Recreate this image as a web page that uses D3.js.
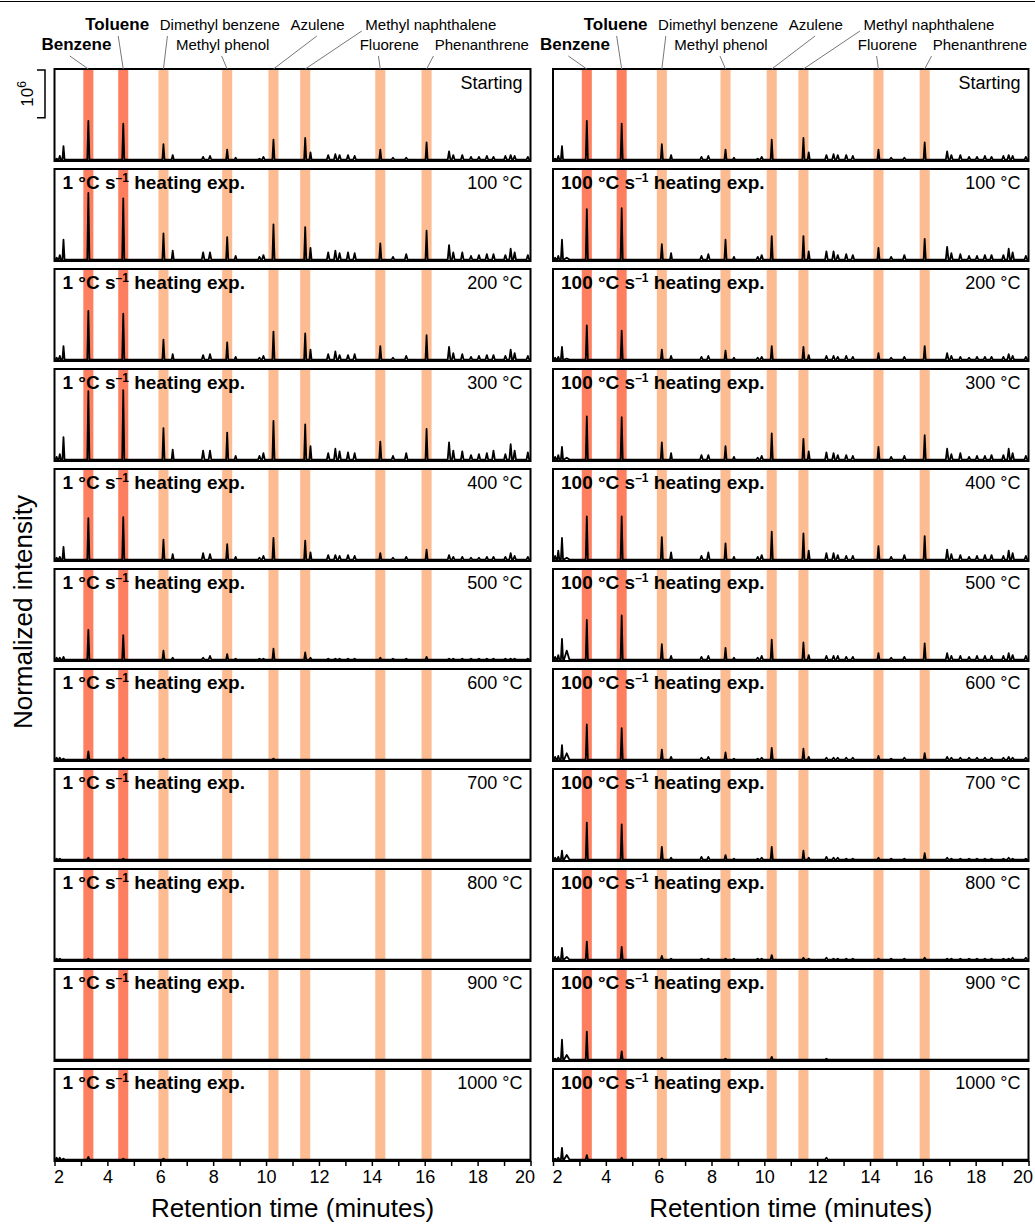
<!DOCTYPE html>
<html>
<head>
<meta charset="utf-8">
<script src="https://cdn.jsdelivr.net/npm/d3@7"></script>
<style>
  body { margin: 0; background: #fff; }
  svg { display: block; font-family: "Liberation Sans", Arial, Helvetica, sans-serif; }
</style>
</head>
<body>
<div id="chart"></div>
<script>
// chart data
const panelTemps = ["Starting", "100 °C", "200 °C", "300 °C", "400 °C", "500 °C",
  "600 °C", "700 °C", "800 °C", "900 °C", "1000 °C"];
const rateLabels = ["1", "100"];

// retention times (min) of the peaks that are tracked
const peakTimes = [2.08, 2.2, 2.34, 2.52, 3.28, 4.6, 6.12, 6.47, 7.62, 7.88, 8.53, 8.85,
  9.75, 9.9, 10.28, 11.48, 11.68, 12.35, 12.62, 12.78, 13.1, 13.35, 14.32, 14.8, 15.3,
  16.07, 16.92, 17.08, 17.42, 17.75, 18.05, 18.35, 18.6, 19.05, 19.25, 19.4, 19.9];
const peakWidths = [0.04, 0.04, 0.04, 0.1, 0.04, 0.04, 0.04, 0.04, 0.05, 0.05, 0.04, 0.04,
  0.05, 0.05, 0.04, 0.04, 0.04, 0.05, 0.05, 0.05, 0.05, 0.05, 0.04, 0.05, 0.05,
  0.04, 0.05, 0.05, 0.05, 0.05, 0.05, 0.05, 0.05, 0.05, 0.05, 0.05, 0.05];

// normalised heights (fraction of panel height), one row per panel
const startHeights = [0.01, 0.04, 0.15, 0, 0.43, 0.40, 0.17, 0.05, 0.03, 0.04, 0.11, 0.02,
  0.01, 0.03, 0.22, 0.24, 0.08, 0.05, 0.06, 0.05, 0.05, 0.04, 0.11, 0.02, 0.02,
  0.19, 0.09, 0.05, 0.05, 0.03, 0.03, 0.04, 0.03, 0.04, 0.05, 0.04, 0.03];

const slowHeights = [
  startHeights,
  [0.02, 0.05, 0.22, 0, 0.74, 0.68, 0.29, 0.10, 0.08, 0.08, 0.25, 0.04, 0.03, 0.05, 0.39, 0.36, 0.13, 0.08, 0.10, 0.07, 0.08, 0.07, 0.18, 0.03, 0.06, 0.32, 0.16, 0.08, 0.08, 0.04, 0.05, 0.06, 0.06, 0.05, 0.12, 0.08, 0.05],
  [0.02, 0.04, 0.15, 0, 0.54, 0.51, 0.22, 0.06, 0.05, 0.06, 0.19, 0.03, 0.02, 0.04, 0.31, 0.29, 0.11, 0.06, 0.09, 0.05, 0.05, 0.06, 0.15, 0.02, 0.04, 0.27, 0.14, 0.07, 0.06, 0.03, 0.04, 0.05, 0.05, 0.04, 0.11, 0.07, 0.04],
  [0.03, 0.06, 0.25, 0, 0.76, 0.77, 0.35, 0.11, 0.10, 0.10, 0.30, 0.04, 0.04, 0.07, 0.43, 0.39, 0.15, 0.07, 0.12, 0.09, 0.08, 0.07, 0.20, 0.04, 0.07, 0.34, 0.19, 0.10, 0.09, 0.05, 0.06, 0.07, 0.10, 0.06, 0.17, 0.10, 0.08],
  [0.02, 0.03, 0.14, 0, 0.46, 0.47, 0.22, 0.06, 0.07, 0.06, 0.17, 0.03, 0.02, 0.04, 0.24, 0.21, 0.08, 0.05, 0.05, 0.04, 0.05, 0.04, 0.07, 0.02, 0.03, 0.11, 0.05, 0.03, 0.03, 0.02, 0.02, 0.03, 0.03, 0.03, 0.07, 0.04, 0.03],
  [0.02, 0.02, 0.03, 0, 0.33, 0.27, 0.10, 0.02, 0.02, 0.04, 0.06, 0.01, 0.01, 0.01, 0.12, 0.08, 0.02, 0.01, 0.01, 0.01, 0.01, 0.01, 0.02, 0.01, 0.01, 0.03, 0.01, 0.01, 0.01, 0.01, 0.01, 0.01, 0.01, 0.01, 0.01, 0.01, 0.01],
  [0.02, 0.02, 0.01, 0, 0.09, 0.02, 0.01, 0, 0, 0, 0, 0, 0, 0, 0.01, 0, 0, 0, 0, 0, 0, 0, 0, 0, 0, 0, 0, 0, 0, 0, 0, 0, 0, 0, 0, 0, 0],
  [0.01, 0.01, 0, 0, 0.02, 0.01, 0, 0, 0, 0, 0, 0, 0, 0, 0, 0, 0, 0, 0, 0, 0, 0, 0, 0, 0, 0, 0, 0, 0, 0, 0, 0, 0, 0, 0, 0, 0],
  [0.01, 0.01, 0, 0, 0.01, 0, 0, 0, 0, 0, 0, 0, 0, 0, 0, 0, 0, 0, 0, 0, 0, 0, 0, 0, 0, 0, 0, 0, 0, 0, 0, 0, 0, 0, 0, 0, 0],
  [0, 0, 0, 0, 0, 0, 0, 0, 0, 0, 0, 0, 0, 0, 0, 0, 0, 0, 0, 0, 0, 0, 0, 0, 0, 0, 0, 0, 0, 0, 0, 0, 0, 0, 0, 0, 0],
  [0.02, 0.02, 0.01, 0, 0.03, 0.01, 0.01, 0, 0, 0, 0, 0, 0, 0, 0, 0, 0, 0, 0, 0, 0, 0, 0, 0, 0, 0, 0, 0, 0, 0, 0, 0, 0, 0, 0, 0, 0]
];

const fastHeights = [
  startHeights,
  [0.02, 0.04, 0.22, 0.02, 0.56, 0.57, 0.17, 0.07, 0.04, 0.06, 0.22, 0.03, 0.03, 0.05, 0.26, 0.26, 0.09, 0.09, 0.09, 0.05, 0.06, 0.05, 0.13, 0.03, 0.05, 0.23, 0.14, 0.07, 0.06, 0.04, 0.04, 0.05, 0.05, 0.05, 0.12, 0.08, 0.04],
  [0.02, 0.03, 0.14, 0.01, 0.38, 0.32, 0.11, 0.04, 0.03, 0.04, 0.10, 0.02, 0.02, 0.03, 0.15, 0.14, 0.05, 0.04, 0.04, 0.03, 0.04, 0.03, 0.07, 0.02, 0.03, 0.15, 0.07, 0.04, 0.03, 0.02, 0.03, 0.03, 0.03, 0.03, 0.06, 0.04, 0.03],
  [0.03, 0.05, 0.14, 0.02, 0.48, 0.47, 0.19, 0.07, 0.05, 0.05, 0.15, 0.03, 0.02, 0.04, 0.29, 0.23, 0.09, 0.08, 0.07, 0.05, 0.05, 0.04, 0.14, 0.03, 0.04, 0.27, 0.12, 0.06, 0.07, 0.03, 0.04, 0.04, 0.05, 0.05, 0.12, 0.07, 0.04],
  [0.04, 0.10, 0.24, 0.02, 0.48, 0.48, 0.25, 0.08, 0.04, 0.08, 0.18, 0.03, 0.03, 0.05, 0.31, 0.29, 0.10, 0.07, 0.07, 0.05, 0.04, 0.04, 0.15, 0.03, 0.05, 0.26, 0.11, 0.06, 0.05, 0.03, 0.04, 0.05, 0.05, 0.04, 0.10, 0.07, 0.04],
  [0.03, 0.05, 0.23, 0.10, 0.44, 0.49, 0.17, 0.04, 0.03, 0.04, 0.13, 0.02, 0.02, 0.04, 0.22, 0.19, 0.05, 0.04, 0.04, 0.04, 0.03, 0.03, 0.07, 0.02, 0.03, 0.18, 0.07, 0.04, 0.04, 0.03, 0.04, 0.04, 0.04, 0.04, 0.07, 0.05, 0.04],
  [0.03, 0.04, 0.16, 0.07, 0.39, 0.35, 0.11, 0.03, 0.02, 0.03, 0.08, 0.01, 0.01, 0.02, 0.13, 0.12, 0.03, 0.02, 0.02, 0.02, 0.02, 0.02, 0.04, 0.01, 0.02, 0.07, 0.03, 0.02, 0.02, 0.02, 0.02, 0.02, 0.02, 0.02, 0.03, 0.02, 0.02],
  [0.02, 0.03, 0.10, 0.05, 0.41, 0.39, 0.14, 0.02, 0.03, 0.03, 0.05, 0.01, 0.01, 0.02, 0.14, 0.10, 0.02, 0.03, 0.02, 0.02, 0.01, 0.01, 0.02, 0.01, 0.01, 0.07, 0.02, 0.01, 0.01, 0.01, 0.01, 0.01, 0.01, 0.01, 0.02, 0.01, 0.01],
  [0.03, 0.03, 0.13, 0.03, 0.20, 0.14, 0.04, 0.01, 0.01, 0.01, 0.01, 0.01, 0.01, 0.01, 0.05, 0.02, 0.01, 0.02, 0.01, 0.01, 0.01, 0.01, 0.01, 0.01, 0.01, 0.02, 0.01, 0.01, 0.01, 0.01, 0.01, 0.01, 0.01, 0.01, 0.01, 0.02, 0.02],
  [0.01, 0.02, 0.22, 0.05, 0.31, 0.09, 0.02, 0, 0, 0, 0.01, 0, 0, 0, 0.03, 0, 0, 0.01, 0, 0, 0, 0, 0, 0, 0, 0, 0, 0, 0, 0, 0, 0, 0, 0, 0, 0, 0],
  [0.01, 0.02, 0.13, 0.05, 0.05, 0.02, 0.01, 0, 0, 0, 0, 0, 0, 0, 0, 0, 0, 0.02, 0, 0, 0, 0, 0, 0, 0, 0, 0, 0, 0, 0, 0, 0, 0, 0, 0, 0, 0]
];

// compounds, highlighted retention windows and label placement
const compoundNames = ["Benzene", "Toluene", "Dimethyl benzene", "Methyl phenol", "Azulene",
  "Methyl naphthalene", "Fluorene", "Phenanthrene"];
const compoundTimes = [3.28, 4.6, 6.12, 8.53, 10.28, 11.48, 14.32, 16.07];
const compoundBold = [true, true, false, false, false, false, false, false];
const labelTimes = [2.83, 4.37, 8.25, 8.36, 11.95, 16.23, 14.66, 18.16];
const labelRows = [1, 0, 0, 1, 0, 0, 1, 1];
const leaderTimes = [2.58, 4.41, 6.27, 8.32, 11.92, 13.62, 14.25, 16.33];
const bandHalf = 0.19;
const scaleBarValue = 0.53; // 10^6 counts in normalised units

const xTicks = d3.range(2, 21, 1);

// layout
const width = 1035, height = 1224;
const columns = [[54.5, 530.5], [553, 1028.5]];
const top0 = 69, step = 100, panelH = 92;
const baseLevel = 0.005;

const svg = d3.select("#chart").append("svg")
  .attr("width", width)
  .attr("height", height);

// thin rule at the very top
svg.append("line")
  .attr("x1", 0).attr("x2", width).attr("y1", 1.5).attr("y2", 1.5)
  .attr("stroke", "#000").attr("stroke-width", 1);

function tracePoints(hs) {
  const pts = [[2, baseLevel]];
  peakTimes.forEach((t, i) => {
    if (hs[i] <= 0) return;
    const w = peakWidths[i];
    pts.push([t - w, baseLevel], [t, baseLevel + hs[i]], [t + w, baseLevel]);
  });
  pts.push([20, baseLevel]);
  return pts;
}

columns.forEach((range, c) => {
  const x = d3.scaleLinear().domain([2, 20]).range(range);
  const data = c === 0 ? slowHeights : fastHeights;

  panelTemps.forEach((temp, p) => {
    const pTop = top0 + p * step;
    const pBot = pTop + panelH;
    const y = d3.scaleLinear().domain([0, 1]).range([pBot - 1, pTop + 1]);
    const g = svg.append("g");

    const clipId = `clip-${c}-${p}`;
    g.append("clipPath").attr("id", clipId)
      .append("rect").attr("x", range[0]).attr("y", pTop)
      .attr("width", range[1] - range[0]).attr("height", panelH);

    // retention windows
    g.selectAll(".band")
      .data(compoundTimes)
      .enter()
      .append("rect")
      .attr("x", d => x(d - bandHalf))
      .attr("width", d => x(d + bandHalf) - x(d - bandHalf))
      .attr("y", pTop)
      .attr("height", panelH)
      .attr("fill", (d, i) => compoundBold[i] ? "#fd7f5f" : "#fdbb91");

    // chromatogram
    const line = d3.line().x(d => x(d[0])).y(d => y(d[1]));
    g.append("path")
      .datum(tracePoints(data[p]))
      .attr("clip-path", `url(#${clipId})`)
      .attr("d", line)
      .attr("fill", "none")
      .attr("stroke", "#000")
      .attr("stroke-width", 1.8)
      .attr("stroke-linejoin", "round");

    // labels
    g.append("text")
      .attr("x", range[1] - 8)
      .attr("y", pTop + 20)
      .attr("text-anchor", "end")
      .style("font-size", "18px")
      .text(temp);

    if (p > 0) {
      const t = g.append("text")
        .attr("x", range[0] + 8)
        .attr("y", pTop + 20)
        .style("font-size", "19px")
        .style("font-weight", "bold");
      t.append("tspan").text(rateLabels[c] + " °C s");
      t.append("tspan").attr("dy", -7).style("font-size", "12px").text("–1");
      t.append("tspan").attr("dy", 7).text(" heating exp.");
    }

    // frame
    g.append("rect")
      .attr("x", range[0]).attr("y", pTop)
      .attr("width", range[1] - range[0]).attr("height", panelH)
      .attr("fill", "none").attr("stroke", "#000").attr("stroke-width", 2);

    if (p === 0) {
      // compound names and leaders
      g.selectAll(".leader")
        .data(compoundNames)
        .enter()
        .append("line")
        .attr("x1", (d, i) => x(leaderTimes[i]))
        .attr("y1", (d, i) => compoundNames[i] === "Methyl naphthalene" ? 31 : (labelRows[i] ? 56 : 36))
        .attr("x2", (d, i) => x(compoundTimes[i]))
        .attr("y2", pTop)
        .attr("stroke", "#777")
        .attr("stroke-width", 1);

      g.selectAll(".cname")
        .data(compoundNames)
        .enter()
        .append("text")
        .attr("x", (d, i) => x(labelTimes[i]))
        .attr("y", (d, i) => labelRows[i] ? 50 : 30)
        .attr("text-anchor", "middle")
        .style("font-size", (d, i) => compoundBold[i] ? "17px" : "15px")
        .style("font-weight", (d, i) => compoundBold[i] ? "bold" : "normal")
        .text(d => d);
    }

    if (p === panelTemps.length - 1) {
      const axis = d3.axisBottom(x)
        .tickValues(xTicks)
        .tickSize(5)
        .tickPadding(4)
        .tickFormat(d => d % 2 === 0 ? d : "");
      const ax = svg.append("g")
        .attr("transform", `translate(0,${pBot})`)
        .call(axis);
      ax.select(".domain").remove();
      ax.selectAll(".tick line").attr("stroke", "#000").attr("stroke-width", 1.5);
      ax.selectAll(".tick text")
        .style("font-size", "18px")
        .style("font-family", "Liberation Sans, Arial, sans-serif")
        .attr("fill", "#000")
        .attr("dx", d => d === 2 ? 4 : (d === 20 ? -6 : 0));

      svg.append("text")
        .attr("x", (range[0] + range[1]) / 2)
        .attr("y", 1217)
        .attr("text-anchor", "middle")
        .style("font-size", "26px")
        .text("Retention time (minutes)");
    }

    if (p === 0 && c === 0) {
      // scale bar
      const sbTop = y(1), sbBot = y(1 - scaleBarValue);
      svg.append("path")
        .attr("d", `M37,${sbTop}H45V${sbBot}H37`)
        .attr("fill", "none").attr("stroke", "#000").attr("stroke-width", 1.5);
      const st = svg.append("text")
        .attr("transform", `translate(33,${(sbTop + sbBot) / 2}) rotate(-90)`)
        .attr("text-anchor", "middle")
        .style("font-size", "17px");
      st.append("tspan").text("10");
      st.append("tspan").attr("dy", -7).style("font-size", "12px").text("6");
    }
  });
});

svg.append("text")
  .attr("transform", `translate(32,612) rotate(-90)`)
  .attr("text-anchor", "middle")
  .style("font-size", "26px")
  .text("Normalized intensity");
</script>
</body>
</html>
